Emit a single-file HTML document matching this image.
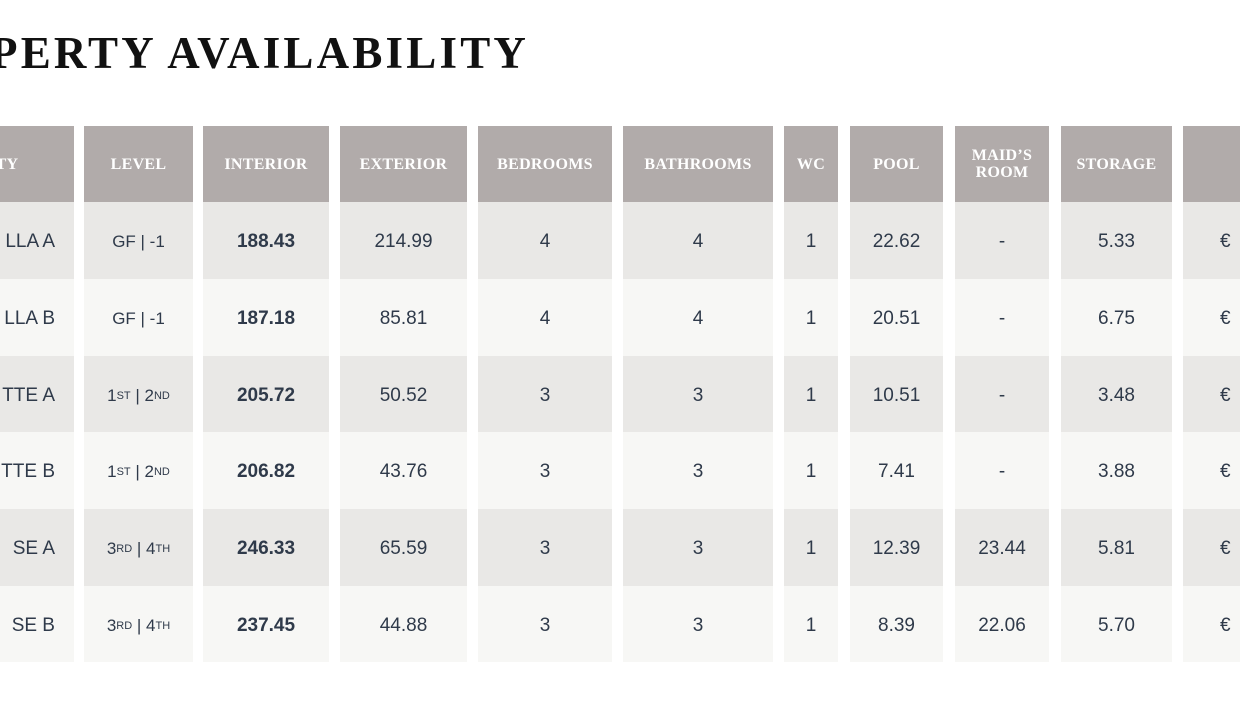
<!DOCTYPE html>
<html><head><meta charset="utf-8"><style>
body{margin:0;width:1240px;height:720px;background:#fff;position:relative;overflow:hidden;font-family:"Liberation Sans",sans-serif}
.t{position:absolute;left:-10px;top:27px;font-family:"Liberation Serif",serif;font-weight:bold;font-size:45px;letter-spacing:3.2px;color:#111;white-space:nowrap}
.c{position:absolute;display:flex;align-items:center;justify-content:center;text-align:center;box-sizing:border-box}
.h{background:#b1abaa;color:#fff;font-family:"Liberation Serif",serif;font-weight:bold;font-size:16px;line-height:17px;letter-spacing:.3px}
.d{color:#2f3a4a;font-size:19px;padding-top:3px}
.o{background:#e9e8e6}.e{background:#f7f7f5}
sup{font-size:11px;vertical-align:7px}
</style></head><body>
<div class="t">PERTY AVAILABILITY</div>
<div id="g"></div>
<script>
var cols=[[-60,74],[84,193],[203,329],[340,467],[478,612],[623,773],[784,838],[850,943],[955,1049],[1061,1172],[1183,1300]];
var hd=["TY","LEVEL","INTERIOR","EXTERIOR","BEDROOMS","BATHROOMS","WC","POOL","MAID’S<br>ROOM","STORAGE",""];
var rows=[
["LLA A","GF | -1","188.43","214.99","4","4","1","22.62","-","5.33","€"],
["LLA B","GF | -1","187.18","85.81","4","4","1","20.51","-","6.75","€"],
["TTE A","1<sup>ST</sup>&nbsp;| 2<sup>ND</sup>","205.72","50.52","3","3","1","10.51","-","3.48","€"],
["TTE B","1<sup>ST</sup>&nbsp;| 2<sup>ND</sup>","206.82","43.76","3","3","1","7.41","-","3.88","€"],
["SE A","3<sup>RD</sup>&nbsp;| 4<sup>TH</sup>","246.33","65.59","3","3","1","12.39","23.44","5.81","€"],
["SE B","3<sup>RD</sup>&nbsp;| 4<sup>TH</sup>","237.45","44.88","3","3","1","8.39","22.06","5.70","€"]];
var ys=[202,279,356,432,509,586,662];
var h="";
cols.forEach(function(c,i){
 h+='<div class="c h" style="left:'+c[0]+'px;width:'+(c[1]-c[0])+'px;top:126px;height:76px">'+hd[i]+'</div>';
 rows.forEach(function(r,j){
  var st='left:'+c[0]+'px;width:'+(c[1]-c[0])+'px;top:'+ys[j]+'px;height:'+(ys[j+1]-ys[j])+'px;';
  if(i==0)st+='justify-content:flex-end;padding-right:19px;';
  if(i==10)st+='justify-content:flex-start;padding-left:37px;';
  if(i==2)st+='font-weight:bold;';
  if(i==1)st+='font-size:17px;';
  h+='<div class="c d '+(j%2?'e':'o')+'" style="'+st+'">'+r[i]+'</div>';
 });
});
document.getElementById('g').innerHTML=h;
</script>
</body></html>
